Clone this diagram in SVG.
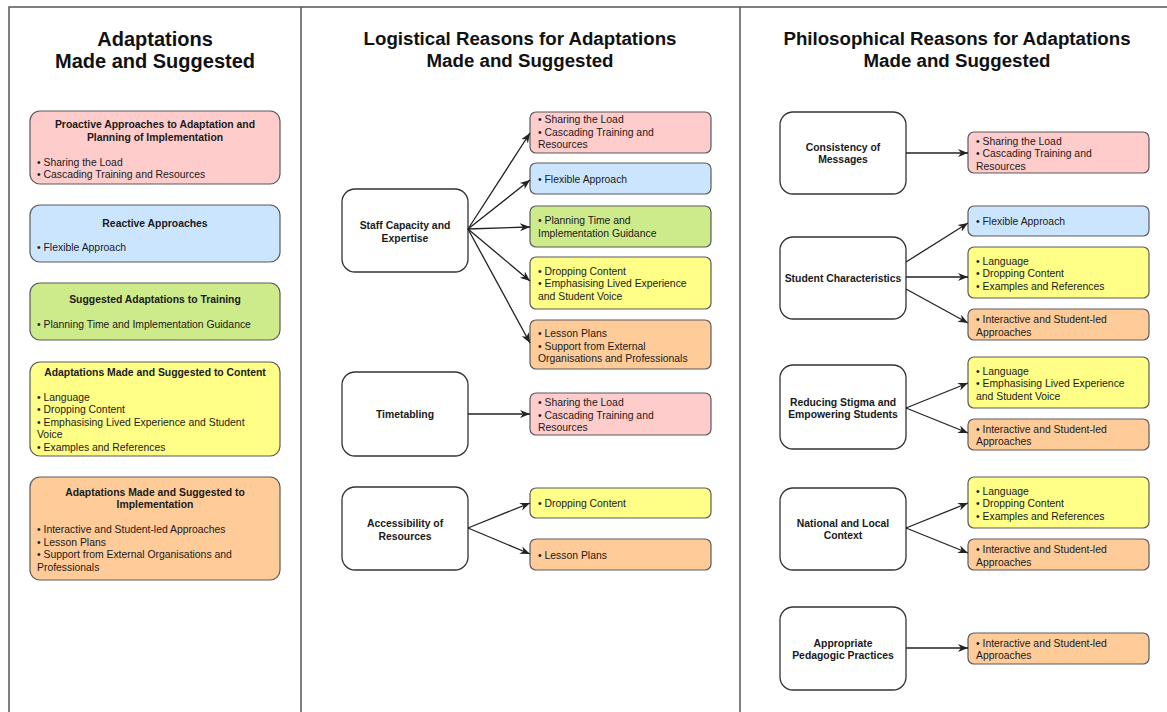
<svg xmlns="http://www.w3.org/2000/svg" width="1167" height="712" viewBox="0 0 1167 712">
<style>
  text { font-family: "Liberation Sans", Arial, sans-serif; fill: #1a1a1a; }
  .h1 { font-size: 20px; font-weight: bold; text-anchor: middle; fill: #111; }
  .h2 { font-size: 18.7px; font-weight: bold; text-anchor: middle; fill: #111; }
  .t { font-size: 10.4px; font-weight: bold; text-anchor: middle; }
  .b { font-size: 10.4px; }
  .frame { stroke: #555; stroke-width: 1.5; fill: none; }
  .pink { fill: #ffcccc; stroke: #5a5a5a; stroke-width: 1.2; }
  .blue { fill: #cce5ff; stroke: #5a5a5a; stroke-width: 1.2; }
  .green { fill: #cdeb8b; stroke: #5a5a5a; stroke-width: 1.2; }
  .yellow { fill: #ffff88; stroke: #5a5a5a; stroke-width: 1.2; }
  .orange { fill: #ffcc99; stroke: #5a5a5a; stroke-width: 1.2; }
  .white { fill: #ffffff; stroke: #333; stroke-width: 1.3; }
  .edge { stroke: #222; stroke-width: 1.3; fill: none; marker-end: url(#arr); }
</style>
<defs>
  <marker id="arr" viewBox="0 0 10 10" refX="10" refY="5" markerWidth="10" markerHeight="10" markerUnits="userSpaceOnUse" orient="auto">
    <path d="M0,1 L10,5 L0,9 L3,5 Z" fill="#222"/>
  </marker>
</defs>
<rect width="1167" height="712" fill="#ffffff"/>

<g id="frames">
  <path class="frame" d="M9,712 V7 H1167 M301,7 V712 M740,7 V712"/>
</g>

<g id="titles">
  <text class="h1" x="155" y="46">Adaptations</text>
  <text class="h1" x="155" y="68">Made and Suggested</text>
  <text class="h2" x="520" y="45">Logistical Reasons for Adaptations</text>
  <text class="h2" x="520" y="66.5">Made and Suggested</text>
  <text class="h2" x="957" y="45">Philosophical Reasons for Adaptations</text>
  <text class="h2" x="957" y="66.5">Made and Suggested</text>
</g>

<!-- Left column -->
<g id="left-proactive">
  <rect class="pink" x="30" y="111" width="250" height="73" rx="10"/>
  <text class="t" x="155" y="128">Proactive Approaches to Adaptation and</text>
  <text class="t" x="155" y="140.5">Planning of Implementation</text>
  <text class="b" x="37" y="165.5">• Sharing the Load</text>
  <text class="b" x="37" y="178">• Cascading Training and Resources</text>
</g>
<g id="left-reactive">
  <rect class="blue" x="30" y="205" width="250" height="57" rx="10"/>
  <text class="t" x="155" y="226.5">Reactive Approaches</text>
  <text class="b" x="37" y="251">• Flexible Approach</text>
</g>
<g id="left-training">
  <rect class="green" x="30" y="283" width="250" height="57" rx="10"/>
  <text class="t" x="155" y="303">Suggested Adaptations to Training</text>
  <text class="b" x="37" y="327.5">• Planning Time and Implementation Guidance</text>
</g>
<g id="left-content">
  <rect class="yellow" x="30" y="362" width="250" height="94" rx="10"/>
  <text class="t" x="155" y="375.5">Adaptations Made and Suggested to Content</text>
  <text class="b" x="37" y="400.5">• Language</text>
  <text class="b" x="37" y="413">• Dropping Content</text>
  <text class="b" x="37" y="425.5">• Emphasising Lived Experience and Student</text>
  <text class="b" x="37" y="438">Voice</text>
  <text class="b" x="37" y="450.5">• Examples and References</text>
</g>
<g id="left-implementation">
  <rect class="orange" x="30" y="477" width="250" height="103" rx="10"/>
  <text class="t" x="155" y="495.5">Adaptations Made and Suggested to</text>
  <text class="t" x="155" y="508">Implementation</text>
  <text class="b" x="37" y="533">• Interactive and Student-led Approaches</text>
  <text class="b" x="37" y="545.5">• Lesson Plans</text>
  <text class="b" x="37" y="558">• Support from External Organisations and</text>
  <text class="b" x="37" y="570.5">Professionals</text>
</g>

<!-- Middle column -->
<g id="mid-staff">
  <rect class="white" x="342" y="189" width="126" height="83" rx="13"/>
  <text class="t" x="405" y="229">Staff Capacity and</text>
  <text class="t" x="405" y="241.5">Expertise</text>
</g>
<g id="mid-staff-pink">
  <rect class="pink" x="530" y="112" width="181" height="41" rx="6"/>
  <text class="b" x="538" y="123">• Sharing the Load</text>
  <text class="b" x="538" y="135.5">• Cascading Training and</text>
  <text class="b" x="538" y="148">Resources</text>
</g>
<g id="mid-staff-blue">
  <rect class="blue" x="530" y="163" width="181" height="31" rx="6"/>
  <text class="b" x="538" y="183">• Flexible Approach</text>
</g>
<g id="mid-staff-green">
  <rect class="green" x="530" y="206" width="181" height="41" rx="6"/>
  <text class="b" x="538" y="224">• Planning Time and</text>
  <text class="b" x="538" y="236.5">Implementation Guidance</text>
</g>
<g id="mid-staff-yellow">
  <rect class="yellow" x="530" y="257" width="181" height="52" rx="6"/>
  <text class="b" x="538" y="274.5">• Dropping Content</text>
  <text class="b" x="538" y="287">• Emphasising Lived Experience</text>
  <text class="b" x="538" y="299.5">and Student Voice</text>
</g>
<g id="mid-staff-orange">
  <rect class="orange" x="530" y="320" width="181" height="49" rx="6"/>
  <text class="b" x="538" y="337">• Lesson Plans</text>
  <text class="b" x="538" y="349.5">• Support from External</text>
  <text class="b" x="538" y="362">Organisations and Professionals</text>
</g>
<g id="mid-time">
  <rect class="white" x="342" y="372" width="126" height="84" rx="13"/>
  <text class="t" x="405" y="418">Timetabling</text>
</g>
<g id="mid-time-pink">
  <rect class="pink" x="530" y="393" width="181" height="42" rx="6"/>
  <text class="b" x="538" y="406">• Sharing the Load</text>
  <text class="b" x="538" y="418.5">• Cascading Training and</text>
  <text class="b" x="538" y="431">Resources</text>
</g>
<g id="mid-access">
  <rect class="white" x="342" y="487" width="126" height="83" rx="13"/>
  <text class="t" x="405" y="527">Accessibility of</text>
  <text class="t" x="405" y="539.5">Resources</text>
</g>
<g id="mid-access-yellow">
  <rect class="yellow" x="530" y="488" width="181" height="30" rx="6"/>
  <text class="b" x="538" y="507">• Dropping Content</text>
</g>
<g id="mid-access-orange">
  <rect class="orange" x="530" y="539" width="181" height="31" rx="6"/>
  <text class="b" x="538" y="558.5">• Lesson Plans</text>
</g>

<!-- Right column -->
<g id="r-consistency">
  <rect class="white" x="780" y="112" width="126" height="82" rx="13"/>
  <text class="t" x="843" y="150.5">Consistency of</text>
  <text class="t" x="843" y="163">Messages</text>
</g>
<g id="r-consistency-pink">
  <rect class="pink" x="968" y="132" width="181" height="41" rx="6"/>
  <text class="b" x="976" y="144.5">• Sharing the Load</text>
  <text class="b" x="976" y="157">• Cascading Training and</text>
  <text class="b" x="976" y="169.5">Resources</text>
</g>
<g id="r-student">
  <rect class="white" x="780" y="237" width="126" height="82" rx="13"/>
  <text class="t" x="843" y="282">Student Characteristics</text>
</g>
<g id="r-student-blue">
  <rect class="blue" x="968" y="206" width="181" height="30" rx="6"/>
  <text class="b" x="976" y="224.7">• Flexible Approach</text>
</g>
<g id="r-student-yellow">
  <rect class="yellow" x="968" y="247" width="181" height="51" rx="6"/>
  <text class="b" x="976" y="264.5">• Language</text>
  <text class="b" x="976" y="277">• Dropping Content</text>
  <text class="b" x="976" y="289.5">• Examples and References</text>
</g>
<g id="r-student-orange">
  <rect class="orange" x="968" y="309" width="181" height="31" rx="6"/>
  <text class="b" x="976" y="322.8">• Interactive and Student-led</text>
  <text class="b" x="976" y="335.5">Approaches</text>
</g>
<g id="r-stigma">
  <rect class="white" x="780" y="365" width="126" height="84" rx="13"/>
  <text class="t" x="843" y="406">Reducing Stigma and</text>
  <text class="t" x="843" y="418">Empowering Students</text>
</g>
<g id="r-stigma-yellow">
  <rect class="yellow" x="968" y="357" width="181" height="51" rx="6"/>
  <text class="b" x="976" y="374.5">• Language</text>
  <text class="b" x="976" y="387">• Emphasising Lived Experience</text>
  <text class="b" x="976" y="399.5">and Student Voice</text>
</g>
<g id="r-stigma-orange">
  <rect class="orange" x="968" y="419" width="181" height="31" rx="6"/>
  <text class="b" x="976" y="432.8">• Interactive and Student-led</text>
  <text class="b" x="976" y="445.3">Approaches</text>
</g>
<g id="r-national">
  <rect class="white" x="780" y="488" width="126" height="82" rx="13"/>
  <text class="t" x="843" y="526.5">National and Local</text>
  <text class="t" x="843" y="539">Context</text>
</g>
<g id="r-national-yellow">
  <rect class="yellow" x="968" y="477" width="181" height="51" rx="6"/>
  <text class="b" x="976" y="494.8">• Language</text>
  <text class="b" x="976" y="507">• Dropping Content</text>
  <text class="b" x="976" y="519.5">• Examples and References</text>
</g>
<g id="r-national-orange">
  <rect class="orange" x="968" y="539" width="181" height="31" rx="6"/>
  <text class="b" x="976" y="552.8">• Interactive and Student-led</text>
  <text class="b" x="976" y="565.5">Approaches</text>
</g>
<g id="r-pedagogic">
  <rect class="white" x="780" y="607" width="126" height="83" rx="13"/>
  <text class="t" x="843" y="646.5">Appropriate</text>
  <text class="t" x="843" y="659">Pedagogic Practices</text>
</g>
<g id="r-pedagogic-orange">
  <rect class="orange" x="968" y="633" width="181" height="31" rx="6"/>
  <text class="b" x="976" y="646.5">• Interactive and Student-led</text>
  <text class="b" x="976" y="659">Approaches</text>
</g>

<g id="connectors">
  <path class="edge" d="M468,229 L530,133"/>
  <path class="edge" d="M468,229 L530,180"/>
  <path class="edge" d="M468,229 L530,227"/>
  <path class="edge" d="M468,229 L530,281"/>
  <path class="edge" d="M468,229 L530,343"/>
  <path class="edge" d="M468,414 L530,414"/>
  <path class="edge" d="M468,528 L530,503"/>
  <path class="edge" d="M468,528 L530,554"/>
  <path class="edge" d="M906,153 L968,153"/>
  <path class="edge" d="M906,262 L968,223"/>
  <path class="edge" d="M906,277 L968,277"/>
  <path class="edge" d="M906,289 L968,323"/>
  <path class="edge" d="M906,408 L968,383"/>
  <path class="edge" d="M906,408 L968,433"/>
  <path class="edge" d="M906,528 L968,503"/>
  <path class="edge" d="M906,528 L968,553"/>
  <path class="edge" d="M906,648 L968,648"/>
</g>
</svg>
